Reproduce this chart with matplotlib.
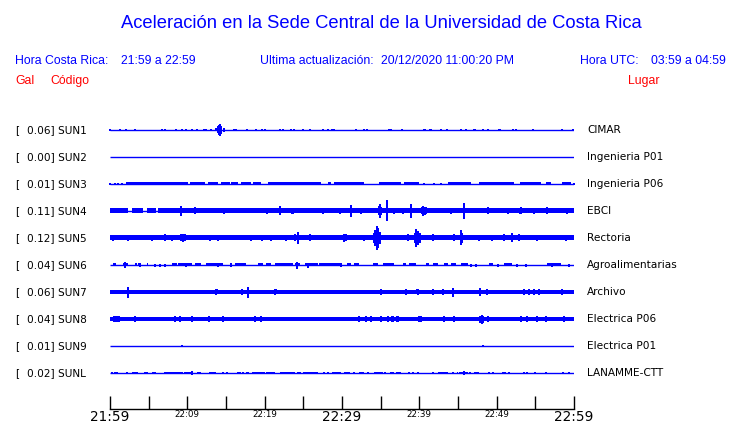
import numpy as np
import matplotlib
matplotlib.use('Agg')
import matplotlib.pyplot as plt

# station list (top to bottom)
codes = ['SUN1', 'SUN2', 'SUN3', 'SUN4', 'SUN5', 'SUN6', 'SUN7', 'SUN8', 'SUN9', 'SUNL']
places = ['CIMAR', 'Ingenieria P01', 'Ingenieria P06', 'EBCI', 'Rectoria',
          'Agroalimentarias', 'Archivo', 'Electrica P06', 'Electrica P01', 'LANAMME-CTT']
peaks = [0.06, 0.00, 0.01, 0.11, 0.12, 0.04, 0.06, 0.04, 0.01, 0.02]

tick_minutes = [0, 10, 20, 30, 40, 50, 60]
tick_labels = ['21:59', '22:09', '22:19', '22:29', '22:39', '22:49', '22:59']

# traces: blocks = (start min, end min, half amplitude Gal),
# spikes = (min, half amplitude Gal); minutes counted from 21:59
sun1_blocks = [(28.60, 29.12, 0.014), (32.69, 32.95, 0.012), (33.1, 33.35, 0.012),
               (41.25, 41.6, 0.012), (45.85, 46.2, 0.012), (47.0, 47.3, 0.012)]
sun1_spikes = [(0.0, 0.012), (1.29, 0.01), (2.02, 0.012), (3.18, 0.01), (6.67, 0.01), (7.14, 0.012),
               (8.56, 0.01), (9.25, 0.01), (9.89, 0.008), (10.54, 0.01), (11.27, 0.005), (12.17, 0.012),
               (12.47, 0.012), (13.12, 0.005), (13.76, 0.015), (14.0, 0.035), (14.1, 0.05), (14.19, 0.058),
               (14.35, 0.04), (14.71, 0.02), (16.04, 0.012), (16.26, 0.012), (17.76, 0.01), (18.9, 0.006),
               (19.66, 0.012), (20.09, 0.012), (22.02, 0.01), (22.37, 0.01), (23.44, 0.012), (23.74, 0.01),
               (24.99, 0.01), (25.89, 0.01), (27.53, 0.008), (28.17, 0.008), (31.83, 0.008), (36.04, 0.01),
               (36.39, 0.01), (37.72, 0.01), (40.56, 0.01), (40.77, 0.01), (42.80, 0.01), (43.53, 0.01),
               (45.4, 0.006), (48.21, 0.01), (48.82, 0.01), (50.24, 0.008), (50.49, 0.008), (52.17, 0.01),
               (52.56, 0.01), (54.75, 0.006), (58.49, 0.005), (59.9, 0.012)]
sun2_blocks = []
sun2_spikes = []
sun3_blocks = [(2.02, 10.11, 0.015), (10.32, 12.26, 0.015), (12.69, 13.98, 0.015), (14.41, 15.48, 0.015),
               (15.70, 16.5, 0.015), (16.9, 18.2, 0.015), (18.5, 19.57, 0.015), (20.43, 27.31, 0.015),
               (28.17, 28.60, 0.015), (29.03, 32.90, 0.015), (34.84, 37.63, 0.015), (38.06, 40.0, 0.015),
               (43.66, 46.67, 0.015), (47.74, 52.26, 0.015), (53.03, 55.70, 0.015), (56.35, 56.99, 0.015),
               (58.49, 59.57, 0.015)]
sun3_spikes = [(0.0, 0.012), (0.65, 0.012), (1.08, 0.012), (1.51, 0.012), (40.64, 0.012), (41.94, 0.012),
               (42.80, 0.012), (58.9, 0.012), (60.0, 0.012)]
sun4_blocks = [(0, 2.37, 0.025), (2.8, 4.3, 0.025), (4.73, 6.0, 0.025), (6.2, 60, 0.025)]
sun4_spikes = [(9.16, 0.047), (10.97, 0.035), (14.75, 0.03), (20.30, 0.03), (22.02, 0.045), (23.5, 0.03),
               (23.66, 0.032), (27.53, 0.03), (29.76, 0.032), (31.18, 0.057), (32.47, 0.03), (34.8, 0.045),
               (34.97, 0.067), (35.1, 0.04), (35.83, 0.105), (36.69, 0.03), (37.85, 0.03), (38.92, 0.07),
               (40.3, 0.035), (40.52, 0.047), (40.7, 0.04), (40.9, 0.035), (44.09, 0.03), (45.72, 0.08),
               (48.82, 0.035), (51.48, 0.03), (53.0, 0.033), (53.12, 0.035), (54.84, 0.03), (56.56, 0.035),
               (59.14, 0.03)]
sun5_blocks = [(0, 60, 0.025)]
sun5_spikes = [(0.43, 0.03), (2.37, 0.03), (5.38, 0.03), (7.10, 0.035), (8.0, 0.03), (9.16, 0.035),
               (9.46, 0.04), (9.76, 0.035), (12.90, 0.03), (13.98, 0.03), (18.28, 0.03), (19.6, 0.03),
               (20.86, 0.03), (22.79, 0.03), (23.95, 0.035), (24.30, 0.06), (25.80, 0.035), (30.23, 0.04),
               (30.57, 0.035), (32.90, 0.03), (34.1, 0.05), (34.27, 0.08), (34.53, 0.12), (34.70, 0.10),
               (34.96, 0.06), (38.49, 0.035), (39.4, 0.05), (39.60, 0.09), (39.82, 0.07), (40.03, 0.05),
               (41.71, 0.035), (44.42, 0.035), (45.37, 0.075), (45.50, 0.05), (47.73, 0.03), (49.45, 0.03),
               (50.96, 0.035), (52.03, 0.045), (52.89, 0.035), (55.26, 0.03), (58.91, 0.03)]
sun6_blocks = [(0.43, 0.73, 0.015), (1.72, 2.37, 0.015), (3.23, 3.44, 0.015), (3.66, 4.00, 0.015),
               (4.73, 4.95, 0.015), (7.96, 8.60, 0.015), (8.82, 10.54, 0.015), (10.97, 11.83, 0.015),
               (12.47, 14.62, 0.015), (16.13, 17.63, 0.015), (19.14, 19.78, 0.015), (20.21, 20.86, 0.015),
               (21.29, 23.65, 0.015), (23.87, 24.51, 0.015), (25.16, 26.88, 0.015), (27.09, 29.89, 0.015),
               (30.66, 31.18, 0.015), (31.61, 32.26, 0.015), (33.97, 34.62, 0.015), (35.27, 36.77, 0.015),
               (37.85, 38.28, 0.015), (38.71, 39.57, 0.015), (40.86, 41.29, 0.015), (41.72, 42.36, 0.015),
               (43.23, 43.66, 0.015), (44.09, 44.73, 0.015), (45.37, 46.24, 0.015), (49.04, 49.47, 0.015),
               (50.96, 52.04, 0.015), (56.56, 58.28, 0.015)]
sun6_spikes = [(1.94, 0.03), (3.87, 0.022), (5.81, 0.015), (6.45, 0.015), (7.10, 0.015), (9.89, 0.022),
               (13.98, 0.022), (15.61, 0.022), (24.22, 0.035), (25.59, 0.025), (29.89, 0.022), (46.67, 0.015),
               (47.31, 0.015), (50.11, 0.015), (52.69, 0.015), (53.76, 0.015), (57.21, 0.018), (59.36, 0.015)]
sun7_blocks = [(0, 60, 0.018), (6.3, 6.6, 0.024), (13.55, 13.95, 0.025), (21.2, 21.6, 0.025), (39.6, 39.95, 0.025)]
sun7_spikes = [(2.37, 0.055), (4.86, 0.022), (6.45, 0.024), (9.46, 0.024), (9.89, 0.024), (10.45, 0.024),
               (10.88, 0.024), (11.18, 0.024), (11.53, 0.024), (11.83, 0.024), (13.76, 0.025), (15.05, 0.024),
               (16.13, 0.022), (17.07, 0.03), (17.85, 0.055), (19.44, 0.024), (20.56, 0.024), (21.38, 0.025),
               (23.66, 0.022), (24.52, 0.022), (25.59, 0.022), (27.74, 0.022), (31.40, 0.022), (32.47, 0.022),
               (34.19, 0.022), (35.05, 0.028), (35.91, 0.024), (36.77, 0.024), (37.63, 0.024), (38.28, 0.032),
               (39.78, 0.025), (41.72, 0.032), (43.01, 0.028), (44.30, 0.045), (46.24, 0.024), (47.87, 0.04),
               (48.73, 0.028), (49.67, 0.022), (53.55, 0.028), (54.19, 0.032), (54.84, 0.028), (55.48, 0.032),
               (57.85, 0.024), (58.49, 0.028), (59.57, 0.022)]
sun8_blocks = [(0, 60, 0.025), (0.4, 1.3, 0.03), (39.8, 40.3, 0.03), (35.8, 36.0, 0.028),
               (36.4, 36.7, 0.028), (37.0, 37.35, 0.028)]
sun8_spikes = [(0.86, 0.033), (3.23, 0.03), (8.39, 0.03), (9.03, 0.03), (10.62, 0.03), (12.82, 0.03),
               (14.62, 0.03), (18.71, 0.03), (19.57, 0.03), (32.26, 0.03), (33.12, 0.03), (33.76, 0.03),
               (35.05, 0.03), (35.91, 0.03), (36.56, 0.03), (37.20, 0.03), (40.0, 0.033), (43.23, 0.03),
               (44.43, 0.03), (47.9, 0.035), (48.04, 0.045), (48.2, 0.035), (48.82, 0.03), (53.12, 0.033),
               (53.98, 0.032), (55.27, 0.03), (56.35, 0.033), (58.71, 0.03)]
sun9_blocks = []
sun9_spikes = [(9.33, 0.006), (48.17, 0.006)]
sunl_blocks = [(0.56, 1.08, 0.013), (2.80, 3.66, 0.013), (4.43, 4.95, 0.013), (7.01, 9.46, 0.013),
               (9.59, 10.54, 0.013), (11.31, 11.83, 0.013), (12.77, 13.76, 0.013), (14.49, 14.75, 0.013),
               (16.43, 16.99, 0.013), (17.63, 17.94, 0.013), (18.37, 20.00, 0.013), (20.21, 21.29, 0.013),
               (21.93, 23.87, 0.013), (24.21, 24.73, 0.013), (24.95, 26.88, 0.013), (28.69, 29.81, 0.013),
               (30.24, 30.97, 0.013), (32.26, 32.82, 0.013), (34.11, 35.27, 0.013), (36.21, 36.77, 0.013),
               (37.03, 37.63, 0.013), (42.37, 43.66, 0.013), (44.86, 45.04, 0.013), (45.16, 46.24, 0.013),
               (47.10, 47.74, 0.013), (50.75, 51.18, 0.013), (58.49, 58.71, 0.013)]
sunl_spikes = [(0.22, 0.014), (2.15, 0.014), (5.51, 0.014), (5.81, 0.014), (10.62, 0.022), (15.18, 0.014),
               (17.20, 0.014), (27.66, 0.014), (28.17, 0.014), (31.61, 0.014), (33.33, 0.014), (35.61, 0.014),
               (38.71, 0.014), (39.14, 0.014), (39.78, 0.014), (41.72, 0.014), (44.39, 0.014), (45.72, 0.022),
               (46.58, 0.014), (49.04, 0.014), (49.59, 0.014), (51.61, 0.014), (53.55, 0.014), (53.98, 0.014),
               (54.97, 0.014), (56.35, 0.014), (59.36, 0.014)]

all_blocks = [sun1_blocks, sun2_blocks, sun3_blocks, sun4_blocks, sun5_blocks,
              sun6_blocks, sun7_blocks, sun8_blocks, sun9_blocks, sunl_blocks]
all_spikes = [sun1_spikes, sun2_spikes, sun3_spikes, sun4_spikes, sun5_spikes,
              sun6_spikes, sun7_spikes, sun8_spikes, sun9_spikes, sunl_spikes]

W, H = 740, 423
fig = plt.figure(figsize=(W / 100, H / 100), dpi=100)
blue = '#0000ff'
hfont = ['Liberation Sans', 'DejaVu Sans']


def ftext(x, y, s, **kw):
    fig.text(x / W, 1 - y / H, s, va='center', **kw)


ftext(381, 23, 'Aceleración en la Sede Central de la Universidad de Costa Rica',
      ha='center', fontsize=13.2, color=blue, family=hfont)
ftext(15, 61, 'Hora Costa Rica:', fontsize=8.8, color=blue, family=hfont)
ftext(121, 61, '21:59 a 22:59', fontsize=8.8, color=blue, family=hfont)
ftext(260, 61, 'Ultima actualización:', fontsize=8.8, color=blue, family=hfont)
ftext(381, 61, '20/12/2020 11:00:20 PM', fontsize=8.8, color=blue, family=hfont)
ftext(580, 61, 'Hora UTC:', fontsize=8.8, color=blue, family=hfont)
ftext(651, 61, '03:59 a 04:59', fontsize=8.8, color=blue, family=hfont)
ftext(15, 81, 'Gal', fontsize=8.8, color='red', family=hfont)
ftext(50, 81, 'Código', fontsize=8.8, color='red', family=hfont)
ftext(628, 81, 'Lugar', fontsize=8.8, color='red', family=hfont)

# trace panel
ax = fig.add_axes([110 / W, 14 / H, 464 / W, 295 / H])
row = 0.27
ax.set_xlim(0, 60)
ax.set_ylim(-2.79, 0.16)

for i in range(len(codes)):
    y0 = -i * row
    ax.plot([0, 60], [y0, y0], color=blue, lw=1.0, solid_capstyle='butt')
    for t0, t1, h in all_blocks[i]:
        ax.fill_between([t0, t1], [y0 - h] * 2, [y0 + h] * 2, color=blue, lw=0)
    if all_spikes[i]:
        t = [s[0] for s in all_spikes[i]]
        a = np.array([s[1] for s in all_spikes[i]])
        ax.vlines(t, y0 - a, y0 + a, color=blue, lw=1.1, clip_on=False, antialiased=False)
    ypix = 130 + i * 27
    ftext(15, ypix, '[', fontsize=7.6, color='black')
    ftext(27, ypix, f'{peaks[i]:.2f}] {codes[i]}', fontsize=7.6, color='black')
    ftext(587, ypix, places[i], fontsize=7.6, color='black')

for s in ['top', 'left', 'right']:
    ax.spines[s].set_visible(False)
ax.spines['bottom'].set_linewidth(1.0)
ax.set_yticks([])
ax.set_xticks(tick_minutes)
ax.set_xticks(np.arange(5, 60, 10), minor=True)
ax.tick_params(axis='x', which='both', direction='in', length=9.5, width=1.0, pad=1)
ax.set_xticklabels(tick_labels)
for lab in ax.get_xticklabels():
    if lab.get_text() in ('21:59', '22:29', '22:59'):
        lab.set_fontsize(9.8)
    else:
        lab.set_fontsize(6.3)

fig.savefig('out.png', dpi=100)
